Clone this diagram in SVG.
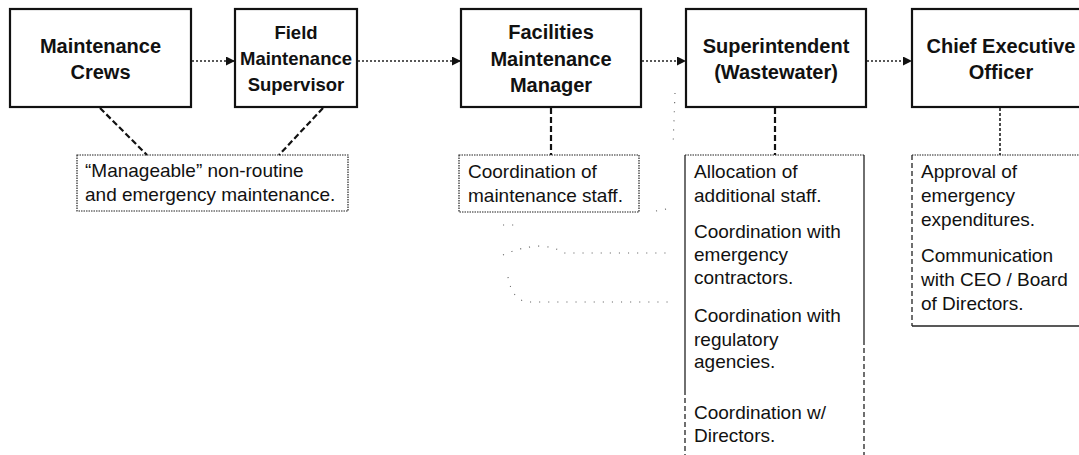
<svg xmlns="http://www.w3.org/2000/svg" width="1079" height="455" viewBox="0 0 1079 455">
<style>
.box{fill:#fff;stroke:#111;stroke-width:2.2}
.bt{font-family:"Liberation Sans",Arial,sans-serif;font-weight:bold;font-size:20px;fill:#111;text-anchor:middle}
.bt2{font-size:18.5px}
.nt{font-family:"Liberation Sans",Arial,sans-serif;font-size:19px;fill:#111}
.arr{fill:none;stroke:#222;stroke-width:1.5;stroke-dasharray:2 2}
.lead{fill:none;stroke:#111;stroke-width:2.2;stroke-dasharray:6 3}
.dot{fill:none;stroke:#222;stroke-width:1.2;stroke-dasharray:1.5 1}
.sol{fill:none;stroke:#222;stroke-width:1.3}
.dsh{fill:none;stroke:#222;stroke-width:1.3;stroke-dasharray:5 3}
.stray{fill:none;stroke:#666;stroke-width:1.1;stroke-dasharray:1.1 8}
</style>
<defs>
<marker id="ah" viewBox="0 0 10 10" refX="10" refY="5" markerWidth="11" markerHeight="9" markerUnits="userSpaceOnUse" orient="auto">
<path d="M0,0 L10,5 L0,10 Z" fill="#111"/>
</marker>
</defs>

<g id="connectors">
<line class="arr" x1="192" y1="61" x2="235" y2="61" marker-end="url(#ah)"/>
<line class="arr" x1="358" y1="61" x2="461" y2="61" marker-end="url(#ah)"/>
<line class="arr" x1="642" y1="61" x2="686" y2="61" marker-end="url(#ah)"/>
<line class="arr" x1="867" y1="61" x2="912" y2="61" marker-end="url(#ah)"/>
<line class="lead" x1="100" y1="108" x2="147" y2="155"/>
<line class="lead" x1="323" y1="108" x2="279" y2="155"/>
<line class="lead" x1="551" y1="108" x2="551" y2="155"/>
<line class="lead" x1="775" y1="108" x2="775" y2="155"/>
<line class="lead" x1="1000" y1="108" x2="1000" y2="155" style="stroke-width:1.5;stroke-dasharray:3 2"/>
</g>

<g id="n1">
<rect class="box" x="10" y="9" width="181" height="98"/>
<text class="bt" x="100.5" y="53">Maintenance</text>
<text class="bt" x="100.5" y="79">Crews</text>
</g>
<g id="n2">
<rect class="box" x="235" y="9" width="122" height="98"/>
<text class="bt bt2" x="296" y="39">Field</text>
<text class="bt bt2" x="296" y="65">Maintenance</text>
<text class="bt bt2" x="296" y="91">Supervisor</text>
</g>
<g id="n3">
<rect class="box" x="461" y="9" width="180" height="98"/>
<text class="bt" x="551" y="39">Facilities</text>
<text class="bt" x="551" y="66">Maintenance</text>
<text class="bt" x="551" y="92">Manager</text>
</g>
<g id="n4">
<rect class="box" x="686" y="9" width="180" height="98"/>
<text class="bt" x="776" y="53">Superintendent</text>
<text class="bt" x="776" y="79">(Wastewater)</text>
</g>
<g id="n5">
<rect class="box" x="912" y="9" width="190" height="98"/>
<text class="bt" x="1001" y="53">Chief Executive</text>
<text class="bt" x="1001" y="79">Officer</text>
</g>

<g id="note1">
<rect class="dot" x="77" y="155" width="271" height="56" fill="#fff"/>
<text class="nt" x="85" y="177">“Manageable” non-routine</text>
<text class="nt" x="85" y="201">and emergency maintenance.</text>
</g>
<g id="note2">
<rect class="dot" x="459" y="155" width="180" height="57" fill="#fff"/>
<text class="nt" x="468" y="178">Coordination of</text>
<text class="nt" x="468" y="202">maintenance staff.</text>
</g>
<g id="note3">
<line class="dot" x1="685" y1="155" x2="864" y2="155"/>
<line class="sol" x1="685" y1="155" x2="685" y2="390"/>
<line class="dsh" x1="685" y1="390" x2="685" y2="455"/>
<line class="sol" x1="864" y1="155" x2="864" y2="340"/>
<line class="dsh" x1="864" y1="340" x2="864" y2="455"/>
<text class="nt" x="694" y="178">Allocation of</text>
<text class="nt" x="694" y="202">additional staff.</text>
<text class="nt" x="694" y="238">Coordination with</text>
<text class="nt" x="694" y="261">emergency</text>
<text class="nt" x="694" y="284">contractors.</text>
<text class="nt" x="694" y="322">Coordination with</text>
<text class="nt" x="694" y="346">regulatory</text>
<text class="nt" x="694" y="368">agencies.</text>
<text class="nt" x="694" y="419">Coordination w/</text>
<text class="nt" x="694" y="442">Directors.</text>
</g>
<g id="note4">
<line class="dot" x1="912" y1="155" x2="1079" y2="155"/>
<line class="dsh" x1="912" y1="155" x2="912" y2="326"/>
<line class="sol" x1="912" y1="326" x2="1079" y2="326"/>
<text class="nt" x="921" y="178">Approval of</text>
<text class="nt" x="921" y="202">emergency</text>
<text class="nt" x="921" y="226">expenditures.</text>
<text class="nt" x="921" y="262">Communication</text>
<text class="nt" x="921" y="286">with CEO / Board</text>
<text class="nt" x="921" y="310">of Directors.</text>
</g>

<g id="stray-marks">
<path class="stray" d="M503,255 Q520,247 540,246 Q555,247 565,253 L670,253"/>
<path class="stray" d="M508,277 Q512,300 528,302 L670,302"/>
<path class="stray" d="M503,225 L516,225"/>
<path class="stray" d="M656,211 L672,208"/>
<path class="stray" d="M675,93 L673,147"/>
</g>
</svg>
